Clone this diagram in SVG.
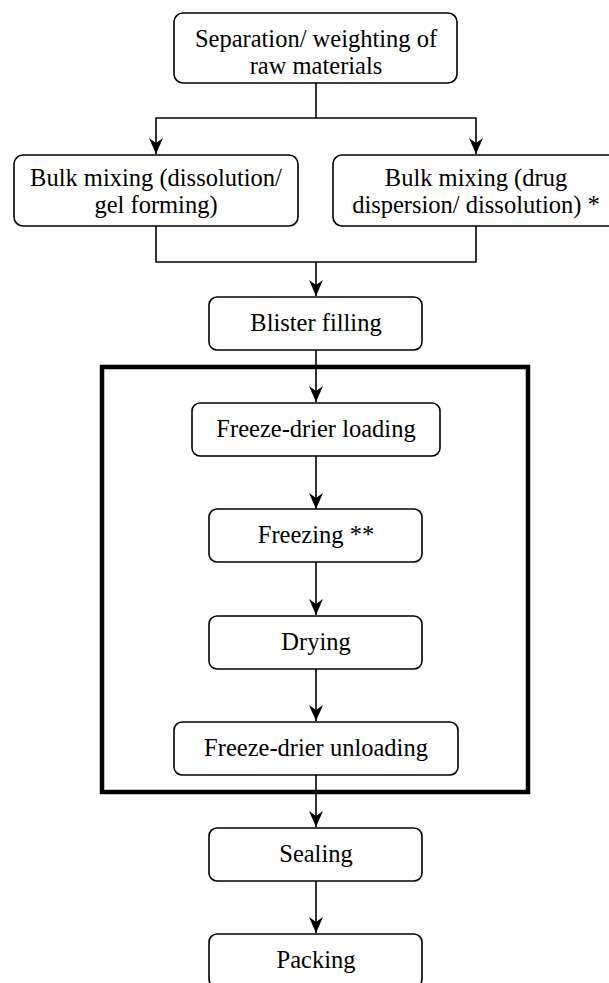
<svg xmlns="http://www.w3.org/2000/svg" width="609" height="983" viewBox="0 0 609 983">
<style>
.box{fill:#fff;stroke:#000;stroke-width:1.6}
text.t{fill:#000;text-anchor:middle;font-family:'Liberation Serif',serif !important;font-size:24.5px}
.c{fill:none;stroke:#000;stroke-width:1.6}
.frame{fill:none;stroke:#000;stroke-width:4.5}
</style>
<defs>
<marker id="ah" markerUnits="userSpaceOnUse" markerWidth="18" markerHeight="16" viewBox="-17 -8 18 16" refX="0" refY="0" orient="auto">
<path d="M0,0 L-16,-7 L-11,0 L-16,7 Z" fill="#000"/>
</marker>
</defs>
<rect class="frame" x="102" y="367" width="426" height="425"/>
<g id="connectors">
<path class="c" d="M316,83 V118 H156 V154" marker-end="url(#ah)"/>
<path class="c" d="M316,118 H476 V154" marker-end="url(#ah)"/>
<path class="c" d="M156,226 V262 H476 V226"/>
<path class="c" d="M316,262 V296" marker-end="url(#ah)"/>
<path class="c" d="M316,350 V402" marker-end="url(#ah)"/>
<path class="c" d="M316,456 V509" marker-end="url(#ah)"/>
<path class="c" d="M316,562 V615" marker-end="url(#ah)"/>
<path class="c" d="M316,669 V721" marker-end="url(#ah)"/>
<path class="c" d="M316,775 V827" marker-end="url(#ah)"/>
<path class="c" d="M316,881 V933" marker-end="url(#ah)"/>
</g>
<g id="n1"><rect class="box" x="174" y="13" width="283" height="70" rx="9"/>
<text class="t" style="font-family:'Liberation Serif',serif" x="316" y="47">Separation/ weighting of</text>
<text class="t" style="font-family:'Liberation Serif',serif" x="316" y="74">raw materials</text></g>
<g id="n2"><rect class="box" x="14" y="155" width="284" height="71" rx="9"/>
<text class="t" style="font-family:'Liberation Serif',serif" x="156" y="186">Bulk mixing (dissolution/</text>
<text class="t" style="font-family:'Liberation Serif',serif" x="156" y="213">gel forming)</text></g>
<g id="n3"><rect class="box" x="333" y="155" width="286" height="71" rx="9"/>
<text class="t" style="font-family:'Liberation Serif',serif" x="476" y="186">Bulk mixing (drug</text>
<text class="t" style="font-family:'Liberation Serif',serif" x="476" y="213">dispersion/ dissolution) *</text></g>
<g id="n4"><rect class="box" x="209" y="297" width="213" height="53" rx="8"/>
<text class="t" style="font-family:'Liberation Serif',serif" x="316" y="331">Blister filling</text></g>
<g id="n5"><rect class="box" x="192" y="403" width="248" height="53" rx="8"/>
<text class="t" style="font-family:'Liberation Serif',serif" x="316" y="437">Freeze-drier loading</text></g>
<g id="n6"><rect class="box" x="209" y="509" width="213" height="53" rx="8"/>
<text class="t" style="font-family:'Liberation Serif',serif" x="316" y="543">Freezing **</text></g>
<g id="n7"><rect class="box" x="209" y="616" width="213" height="53" rx="8"/>
<text class="t" style="font-family:'Liberation Serif',serif" x="316" y="650">Drying</text></g>
<g id="n8"><rect class="box" x="174" y="722" width="284" height="53" rx="8"/>
<text class="t" style="font-family:'Liberation Serif',serif" x="316" y="756">Freeze-drier unloading</text></g>
<g id="n9"><rect class="box" x="209" y="828" width="213" height="53" rx="8"/>
<text class="t" style="font-family:'Liberation Serif',serif" x="316" y="862">Sealing</text></g>
<g id="n10"><rect class="box" x="209" y="934" width="213" height="53" rx="8"/>
<text class="t" style="font-family:'Liberation Serif',serif" x="316" y="968">Packing</text></g>
</svg>
